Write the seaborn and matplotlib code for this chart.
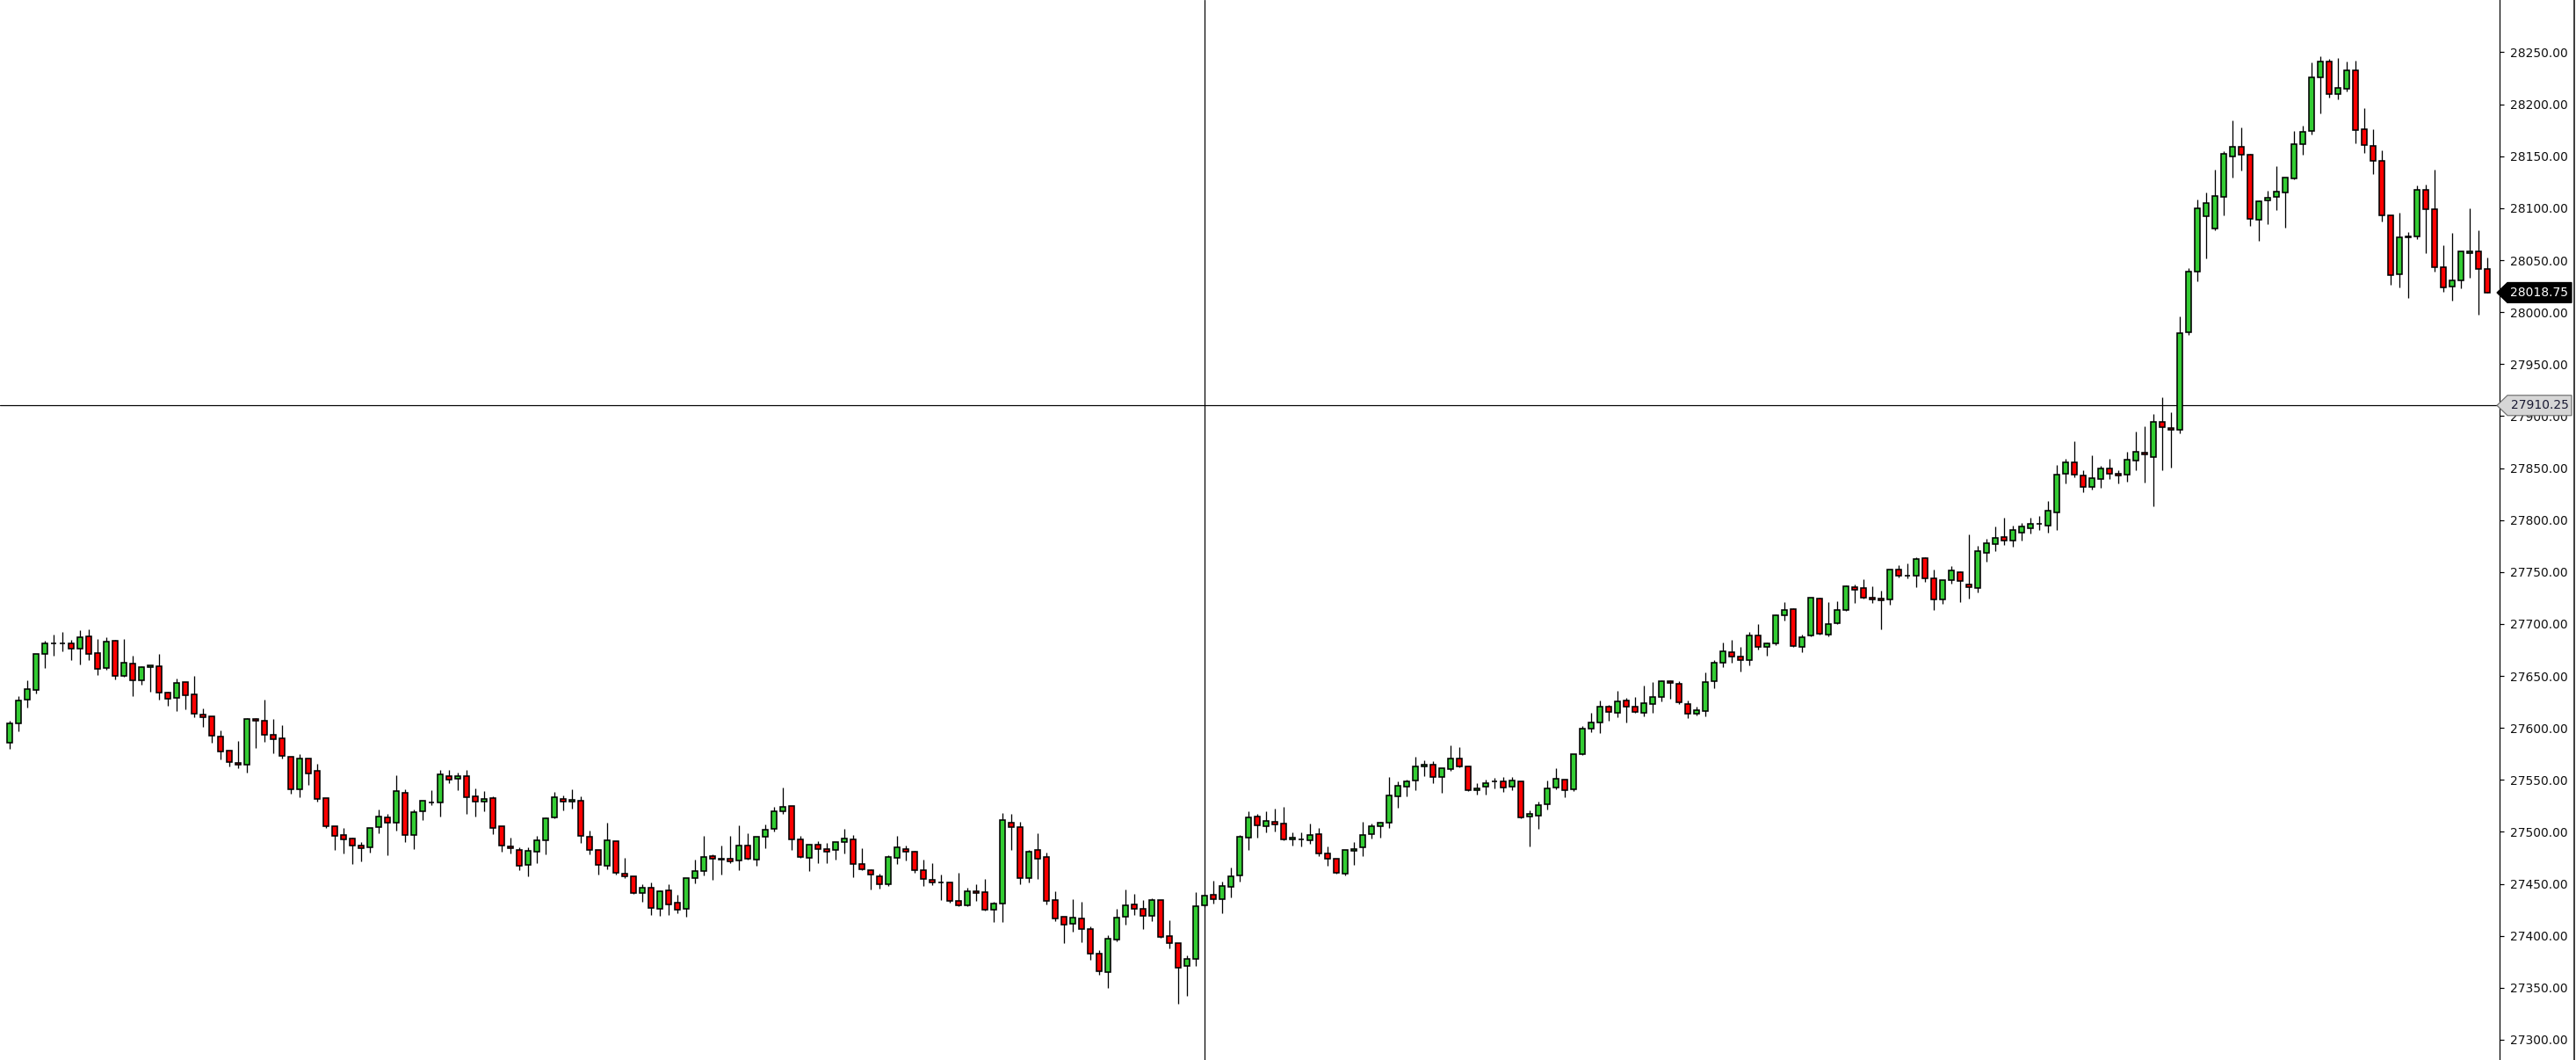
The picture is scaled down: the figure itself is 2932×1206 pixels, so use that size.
import numpy as np
import pandas as pd
import matplotlib
matplotlib.use("Agg")
import matplotlib.pyplot as plt
import matplotlib.transforms as mtransforms
from matplotlib.patches import Polygon
from matplotlib.lines import Line2D
import seaborn as sns

# ---------------- data (OHLC per bar) ----------------
opens = [
 27585.5,27604.1,27626.9,27636.2,27670.9,27681.3,27681.5,27681.1,27676.0,27687.8,
 27671.8,27657.4,27683.6,27649.8,27661.6,27645.5,27658.2,27659.1,27633.7,27628.6,
 27643.8,27632.0,27612.6,27610.9,27591.4,27577.9,27566.0,27564.3,27608.3,27606.6,
 27593.1,27589.7,27571.9,27540.6,27570.2,27558.4,27532.2,27505.1,27496.7,27493.3,
 27486.5,27484.8,27504.3,27513.6,27508.5,27537.3,27496.7,27519.5,27528.2,27528.0,
 27553.3,27550.8,27553.3,27533.9,27528.8,27532.2,27505.2,27485.7,27482.3,27468.0,
 27480.6,27491.6,27513.6,27531.4,27528.8,27529.7,27495.0,27482.3,27467.1,27490.8,
 27459.5,27457.0,27440.9,27446.0,27425.7,27443.4,27431.6,27425.7,27455.3,27462.0,
 27476.4,27473.6,27473.9,27472.2,27486.5,27472.9,27494.9,27502.5,27519.5,27524.5,
 27492.4,27474.6,27487.3,27483.1,27482.2,27489.9,27492.4,27468.7,27462.8,27456.9,
 27449.3,27474.6,27483.1,27480.6,27462.8,27453.5,27451.5,27451.0,27433.2,27429.0,
 27442.5,27441.6,27424.7,27430.7,27508.5,27504.2,27455.2,27482.3,27475.5,27434.1,
 27418.0,27411.2,27416.3,27406.1,27382.5,27364.7,27396.0,27418.0,27429.8,27425.6,
 27418.8,27434.1,27399.4,27392.6,27370.6,27377.4,27429.0,27439.1,27434.9,27446.7,
 27457.7,27494.1,27514.4,27505.1,27509.3,27507.6,27492.4,27492.7,27491.6,27497.5,
 27478.9,27473.8,27459.4,27481.4,27484.8,27497.5,27505.1,27508.5,27533.8,27543.1,
 27549.1,27562.6,27564.3,27552.5,27560.1,27570.2,27562.6,27539.8,27543.2,27548.3,
 27548.3,27543.2,27548.3,27514.5,27515.3,27526.3,27542.4,27550.0,27540.7,27574.5,
 27599.0,27604.9,27620.2,27614.2,27626.1,27620.2,27614.2,27622.7,27629.5,27644.7,
 27642.2,27622.7,27613.4,27615.9,27644.7,27662.5,27672.5,27668.3,27664.9,27688.6,
 27677.6,27681.0,27708.0,27714.0,27677.6,27688.6,27724.1,27689.4,27700.4,27713.1,
 27735.1,27734.3,27724.9,27724.1,27723.3,27752.0,27746.1,27746.1,27763.0,27743.6,
 27723.3,27741.9,27749.5,27737.6,27734.3,27768.0,27777.0,27784.0,27780.0,27788.0,
 27792.0,27796.0,27795.0,27807.0,27844.2,27855.2,27842.5,27831.5,27839.1,27849.3,
 27844.2,27843.3,27856.9,27864.5,27860.2,27894.1,27888.2,27886.5,27980.3,28038.7,
 28092.0,28080.2,28110.6,28149.5,28158.8,28151.2,28088.6,28107.2,28110.6,28114.8,
 28128.4,28161.4,28174.0,28225.6,28240.8,28209.6,28214.6,28232.4,28175.7,28159.7,
 28145.3,28092.9,28036.2,28072.3,28072.6,28117.4,28098.8,28043.0,28024.4,28030.3,
 28056.5,28058.2,28041.3]
highs = [
 27606.9,27630.3,27645.8,27670.9,27683.6,27689.5,27692.0,27684.4,27693.7,27694.9,
 27685.3,27687.0,27684.4,27685.3,27669.2,27659.1,27660.5,27670.9,27634.5,27647.2,
 27643.8,27649.8,27618.5,27610.9,27597.3,27577.9,27587.2,27609.2,27609.1,27627.0,
 27608.3,27602.4,27571.9,27574.5,27570.2,27565.2,27532.2,27505.1,27503.4,27494.1,
 27489.9,27503.4,27521.5,27517.0,27554.2,27540.6,27521.2,27529.6,27540.1,27559.2,
 27559.2,27556.7,27559.2,27541.5,27539.2,27533.9,27505.2,27494.2,27484.9,27484.9,
 27495.9,27513.6,27538.1,27534.8,27540.7,27533.9,27500.9,27482.3,27508.5,27490.8,
 27474.7,27457.0,27449.3,27451.0,27443.4,27449.3,27439.2,27455.3,27473.0,27495.9,
 27478.1,27486.6,27495.9,27506.0,27498.3,27494.9,27506.8,27523.7,27542.6,27524.5,
 27495.8,27487.3,27490.7,27489.0,27489.9,27502.5,27496.6,27483.9,27463.6,27459.4,
 27477.2,27495.8,27486.5,27481.4,27472.9,27469.6,27458.6,27451.0,27460.3,27445.9,
 27449.3,27454.3,27432.4,27517.8,27516.9,27509.3,27482.3,27498.3,27479.7,27442.5,
 27418.0,27434.9,27432.4,27408.7,27385.8,27400.2,27425.6,27444.2,27440.0,27434.1,
 27435.7,27434.1,27414.6,27392.6,27380.8,27441.7,27439.1,27452.7,27451.8,27465.3,
 27496.6,27519.5,27516.9,27519.5,27522.0,27523.7,27499.2,27499.2,27507.6,27503.4,
 27485.6,27473.8,27482.3,27489.9,27509.3,27507.6,27509.3,27552.5,27548.2,27549.9,
 27571.9,27568.5,27567.7,27560.9,27582.9,27581.2,27562.6,27546.5,27550.0,27551.7,
 27552.5,27552.5,27548.3,27520.4,27528.8,27549.1,27561.0,27550.0,27574.5,27601.6,
 27614.2,27626.1,27621.9,27635.4,27628.6,27629.5,27640.5,27643.8,27645.5,27645.5,
 27644.7,27626.1,27620.2,27653.1,27665.0,27681.9,27684.4,27677.6,27692.0,27699.6,
 27681.8,27708.9,27720.7,27714.8,27689.4,27724.9,27724.9,27720.7,27721.6,27736.8,
 27737.6,27742.7,27735.9,27731.7,27752.0,27756.2,27757.9,27763.9,27763.9,27752.0,
 27741.9,27755.4,27750.3,27785.8,27775.0,27782.0,27794.0,27802.0,27795.0,27797.0,
 27802.0,27804.0,27818.0,27852.6,27858.6,27875.5,27847.6,27861.9,27851.8,27858.6,
 27847.6,27865.3,27884.8,27889.9,27901.7,27917.8,27903.4,27995.6,28042.0,28108.0,
 28115.0,28136.8,28154.6,28184.2,28177.4,28152.0,28107.2,28116.5,28140.2,28129.2,
 28174.0,28179.1,28240.0,28245.9,28243.4,28244.2,28240.8,28241.7,28196.0,28175.7,
 28155.4,28092.9,28095.4,28076.8,28121.6,28122.5,28136.8,28064.1,28075.9,28058.2,
 28099.6,28078.5,28052.3]
lows = [
 27580.1,27597.0,27619.9,27633.4,27657.9,27669.8,27674.0,27665.6,27661.3,27665.6,
 27651.2,27656.2,27646.4,27649.5,27630.9,27641.9,27635.1,27627.5,27621.6,27615.9,
 27618.2,27610.6,27601.3,27585.5,27570.0,27563.2,27561.0,27557.3,27581.0,27586.3,
 27575.9,27570.8,27537.0,27533.6,27545.4,27529.4,27504.0,27482.8,27479.5,27469.3,
 27471.9,27480.3,27498.9,27477.8,27500.9,27490.5,27483.7,27511.6,27525.4,27515.0,
 27547.1,27540.4,27517.5,27515.0,27520.1,27497.5,27480.6,27478.9,27462.9,27457.0,
 27469.6,27478.1,27512.8,27520.4,27522.6,27489.1,27478.1,27458.6,27463.7,27459.2,
 27455.3,27440.5,27432.4,27419.7,27418.9,27419.7,27421.4,27418.1,27450.2,27457.8,
 27453.6,27458.6,27469.6,27462.9,27473.5,27467.0,27483.9,27500.0,27516.9,27482.8,
 27474.6,27461.9,27469.6,27469.6,27472.9,27478.9,27456.0,27462.8,27444.2,27445.0,
 27447.6,27468.7,27472.1,27460.3,27447.6,27448.4,27434.0,27431.5,27428.8,27428.8,
 27433.2,27423.9,27412.9,27412.9,27482.3,27449.3,27451.0,27454.3,27429.8,27413.8,
 27392.6,27403.6,27393.5,27376.5,27362.2,27349.5,27394.3,27410.4,27419.7,27406.1,
 27413.8,27398.3,27387.5,27334.3,27341.9,27370.6,27427.8,27430.7,27421.4,27436.6,
 27451.8,27482.3,27494.1,27499.2,27500.0,27491.6,27486.5,27485.6,27488.2,27476.3,
 27467.0,27459.4,27457.7,27467.9,27476.3,27493.3,27494.1,27503.4,27522.9,27533.8,
 27539.8,27553.3,27546.5,27537.2,27558.4,27562.4,27539.6,27535.5,27535.6,27542.1,
 27538.1,27539.8,27512.8,27485.7,27502.6,27521.2,27540.7,27533.1,27539.0,27573.7,
 27595.6,27594.8,27606.6,27610.0,27604.9,27614.9,27610.9,27614.2,27625.2,27627.8,
 27622.7,27609.2,27611.7,27610.9,27637.9,27658.2,27662.4,27653.9,27659.8,27675.1,
 27669.1,27679.3,27703.0,27678.2,27672.5,27687.7,27689.4,27687.7,27699.6,27713.0,
 27719.9,27724.7,27719.9,27694.5,27718.2,27744.4,27743.6,27735.1,27740.2,27713.1,
 27719.0,27738.5,27720.7,27724.1,27730.0,27760.0,27770.0,27776.0,27774.0,27780.0,
 27787.0,27790.0,27788.0,27790.0,27834.9,27840.8,27826.4,27829.0,27830.7,27839.1,
 27834.9,27836.6,27847.6,27835.7,27812.9,27847.6,27850.1,27883.1,27978.0,28029.4,
 28051.4,28078.5,28092.9,28129.2,28136.0,28082.7,28068.3,28084.4,28097.9,28081.0,
 28127.5,28151.2,28170.7,28191.0,28206.2,28204.5,28212.1,28162.2,28152.9,28132.6,
 28086.9,28026.0,28023.5,28013.4,28070.0,28056.5,28038.7,28019.3,28010.8,28022.7,
 28032.8,27997.3,28018.4]
closes = [
 27604.1,27626.1,27637.1,27670.9,27681.1,27681.5,27681.3,27676.0,27687.0,27670.9,
 27656.5,27682.7,27649.8,27662.5,27645.5,27658.2,27659.9,27633.7,27627.8,27643.0,
 27631.2,27613.4,27610.0,27592.3,27577.0,27566.9,27564.3,27608.3,27606.6,27593.1,
 27588.8,27572.8,27540.6,27570.2,27555.9,27531.3,27505.1,27495.8,27492.4,27486.5,
 27484.0,27503.4,27514.4,27508.5,27538.9,27496.7,27518.7,27529.6,27528.4,27555.0,
 27549.9,27553.3,27533.0,27528.8,27531.3,27503.4,27486.6,27484.0,27467.1,27481.5,
 27491.6,27512.8,27533.1,27528.8,27530.5,27495.9,27482.3,27468.0,27491.6,27460.3,
 27457.0,27440.9,27446.0,27426.5,27442.6,27429.9,27424.8,27455.3,27462.0,27475.6,
 27473.9,27473.8,27471.3,27486.6,27473.8,27494.9,27501.7,27519.5,27523.7,27492.4,
 27475.5,27487.3,27483.1,27480.6,27489.9,27493.2,27468.7,27463.6,27458.6,27449.3,
 27475.5,27484.8,27480.6,27462.8,27454.3,27451.0,27451.7,27433.2,27429.0,27442.5,
 27440.8,27424.7,27430.7,27511.0,27504.2,27455.2,27480.6,27473.8,27433.2,27416.3,
 27410.4,27417.1,27406.1,27382.5,27365.6,27396.8,27417.1,27429.0,27425.6,27418.8,
 27434.1,27398.5,27392.6,27368.9,27377.4,27428.1,27438.3,27434.9,27447.6,27456.9,
 27494.9,27513.5,27505.9,27510.2,27506.8,27492.4,27494.1,27492.9,27496.6,27478.9,
 27473.8,27460.3,27482.3,27483.1,27496.6,27505.1,27508.5,27534.7,27544.0,27548.2,
 27562.6,27564.3,27552.5,27560.9,27570.2,27562.6,27539.8,27541.5,27546.6,27548.5,
 27542.4,27549.1,27513.6,27517.0,27525.4,27541.5,27550.8,27539.8,27574.5,27599.0,
 27604.9,27620.2,27615.1,27625.2,27620.2,27615.1,27623.5,27629.5,27644.7,27643.0,
 27624.4,27613.4,27616.8,27643.8,27662.5,27673.4,27668.3,27664.9,27688.6,27677.6,
 27681.0,27708.0,27713.1,27678.4,27686.9,27724.9,27690.3,27699.6,27713.1,27735.9,
 27732.6,27724.9,27723.3,27722.4,27752.0,27746.1,27746.3,27762.2,27743.6,27723.3,
 27741.9,27751.2,27741.0,27735.1,27769.8,27778.0,27783.0,27780.0,27790.0,27794.0,
 27796.0,27796.2,27808.7,27843.3,27855.2,27843.3,27831.5,27840.0,27849.3,27844.2,
 27842.5,27857.7,27865.3,27862.8,27894.1,27889.0,27886.5,27979.5,28038.7,28100.0,
 28105.0,28111.5,28152.0,28158.8,28151.2,28089.5,28106.4,28109.8,28115.7,28129.2,
 28161.4,28173.2,28225.6,28240.8,28209.6,28215.5,28232.4,28174.9,28160.5,28145.3,
 28092.9,28035.3,28071.7,28072.5,28117.4,28098.8,28043.0,28023.5,28030.3,28058.2,
 28058.2,28041.3,28018.75]

price_ticks = [27300, 27350, 27400, 27450, 27500, 27550, 27600, 27650, 27700, 27750,
               27800, 27850, 27900, 27950, 28000, 28050, 28100, 28150, 28200, 28250]
last_price = 28018.75
crosshair_price = 27910.25
crosshair_bar = 136

df = pd.DataFrame({"open": opens, "high": highs, "low": lows, "close": closes})
df["bar"] = np.arange(len(df))
df["up"] = df["close"] >= df["open"]

# ---------------- figure ----------------
W, H, DPI = 2932, 1206, 100
sns.set_theme(style="white")
plt.rcParams["font.family"] = ["DejaVu Sans"]

fig = plt.figure(figsize=(W / DPI, H / DPI), dpi=DPI, facecolor="white")
ax_right_px = 2845
ax = fig.add_axes([0, 0, ax_right_px / W, 1])
ax.set_facecolor("white")

x0_px, step_px = 11.3, 10.0
ax.set_xlim((0 - x0_px) / step_px, (ax_right_px - x0_px) / step_px)
ymin, ymax = 27280.5, 28300.3
ax.set_ylim(ymin, ymax)

px = 72.0 / DPI  # one pixel in points

# wicks
ax.vlines(df["bar"], df["low"], df["high"], color="black", linewidth=1.3 * px, zorder=2)
# bodies
body_bottom = df[["open", "close"]].min(axis=1)
body_h = (df["close"] - df["open"]).abs()
colors = np.where(df["up"], "#33cc33", "#ff0000")
ax.bar(df["bar"], body_h, bottom=body_bottom, width=0.6, color=colors,
       edgecolor="black", linewidth=1.6 * px, zorder=3)

# crosshair
ax.axhline(crosshair_price, color="black", linewidth=1.2 * px, zorder=1)
ax.axvline(crosshair_bar, color="black", linewidth=1.2 * px, zorder=1)

# axis styling
for s in ["top", "left", "bottom"]:
    ax.spines[s].set_visible(False)
ax.spines["right"].set_visible(True)
ax.spines["right"].set_color("black")
ax.spines["right"].set_linewidth(1.2 * px)
ax.set_xticks([])
ax.yaxis.tick_right()
ax.set_yticks(price_ticks)
ax.set_yticklabels([f"{t:.2f}" for t in price_ticks])
ax.tick_params(axis="y", which="major", direction="out", length=5 * px,
               width=1.2 * px, color="black", pad=5, labelsize=10, labelcolor="#111111",
               right=True, left=False)
ax.grid(False)

# price tags
px_per_unit = H / (ymax - ymin)
half = 11.5 / px_per_unit
blend = mtransforms.blended_transform_factory(fig.transFigure, ax.transData)


def tag(price, fc, ec, tc):
    xl = (ax_right_px - 3) / W
    xb = (ax_right_px + 9) / W
    xr = (W - 5) / W
    pts = [(xl, price), (xb, price + half), (xr, price + half), (xr, price - half), (xb, price - half)]
    poly = Polygon(pts, closed=True, transform=blend, facecolor=fc, edgecolor=ec,
                   linewidth=1.2 * px, clip_on=False, zorder=10)
    fig.add_artist(poly)
    fig.text((xb + xr) / 2, price, f"{price:.2f}", transform=blend, ha="center", va="center",
             fontsize=10, color=tc, zorder=11)


tag(crosshair_price, "#d6d6d6", "#707070", "#1a1a33")
tag(last_price, "black", "black", "white")

# right border of the window
fig.add_artist(Line2D([(W - 2) / W, (W - 2) / W], [0, 1], transform=fig.transFigure,
                      color="black", linewidth=1.5 * px))

fig.savefig("out.png", dpi=DPI, facecolor="white")
